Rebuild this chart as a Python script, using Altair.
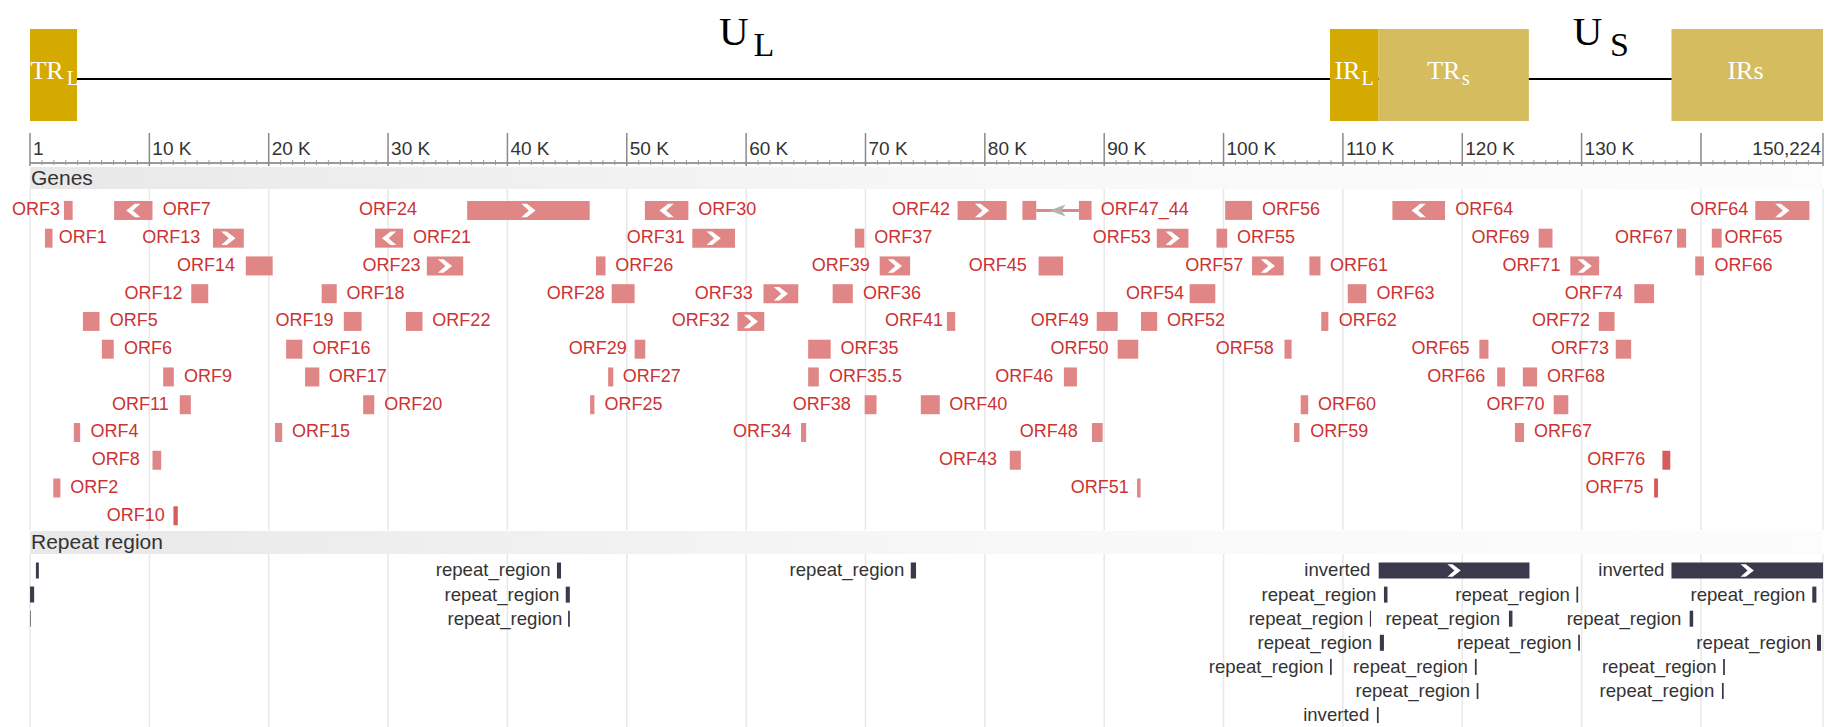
import altair as alt
import pandas as pd

GENOME_LEN = 150224
PW = 1793
FONT = "Liberation Sans"
SERIF = "Liberation Serif"

# ---------------- genome structure (header) ----------------
region_name = ["TR_L", "IR_L", "TR_s", "IRs"]
region_start = [1, 108920, 112990, 137530]
region_end = [3940, 112990, 125580, 150224]
region_fill = ["#D4AA00", "#D4AA00", "#D4BC5F", "#D4BC5F"]
region_text = ["TR", "IR", "TR", "IRs"]
region_text_end = [2823, 111470, 119850, 145240]
region_sub = ["L", "L", "s", ""]
region_sub_start = [3074, 111553, 119975, 145240]

segment_text = ["U", "U"]
segment_text_end = [60206, 131745]
segment_sub = ["L", "S"]
segment_sub_start = [60625, 132373]

# ---------------- ruler ----------------
axis_label_pos = [0, 10000, 20000, 30000, 40000, 50000, 60000, 70000,
                  80000, 90000, 100000, 110000, 120000, 130000]
axis_label_text = ["1", "10 K", "20 K", "30 K", "40 K", "50 K", "60 K", "70 K",
                   "80 K", "90 K", "100 K", "110 K", "120 K", "130 K"]
axis_end_label = "150,224"
major_tick_pos = [0, 10000, 20000, 30000, 40000, 50000, 60000, 70000, 80000,
                  90000, 100000, 110000, 120000, 130000, 140000, 150224]
minor_tick_pos = [p for p in range(1000, GENOME_LEN, 1000) if p % 10000]

# ---------------- genes ----------------
gene_name = [
    "ORF3", "ORF7", "ORF24", "ORF30", "ORF42", "ORF47_44", "ORF56", "ORF64", "ORF64",
    "ORF1", "ORF13", "ORF21", "ORF31", "ORF37", "ORF53", "ORF55", "ORF69", "ORF67", "ORF65",
    "ORF14", "ORF23", "ORF26", "ORF39", "ORF45", "ORF57", "ORF61", "ORF71", "ORF66",
    "ORF12", "ORF18", "ORF28", "ORF33", "ORF36", "ORF54", "ORF63", "ORF74",
    "ORF5", "ORF19", "ORF22", "ORF32", "ORF41", "ORF49", "ORF52", "ORF62", "ORF72",
    "ORF6", "ORF16", "ORF29", "ORF35", "ORF50", "ORF58", "ORF65", "ORF73",
    "ORF9", "ORF17", "ORF27", "ORF35.5", "ORF46", "ORF66", "ORF68",
    "ORF11", "ORF20", "ORF25", "ORF38", "ORF40", "ORF60", "ORF70",
    "ORF4", "ORF15", "ORF34", "ORF48", "ORF59", "ORF67",
    "ORF8", "ORF43", "ORF76",
    "ORF2", "ORF51", "ORF75",
    "ORF10",
]
gene_start = [
    2844, 7050, 36627, 51517, 77715, 83147, 100137, 114147, 144551,
    1254, 15330, 28910, 55492, 69104, 94408, 99409, 126401, 137993, 140908,
    18079, 33248, 47424, 71191, 84505, 102389, 107192, 129051, 139518,
    13509, 24438, 48735, 61453, 67249, 97157, 110404, 134416,
    4434, 26293, 31493, 59267, 76820, 89374, 93083, 108186, 131436,
    6024, 21458, 50656, 65196, 91130, 105105, 121433, 132860,
    11157, 23047, 48437, 65196, 86624, 122923, 125077,
    12548, 27915, 46927, 69932, 74635, 106463, 127660,
    3672, 20530, 64600, 88975, 105900, 124414,
    10263, 82087, 136768,
    1950, 92752, 136072,
    12018,
]
gene_end = [
    3573, 10263, 46894, 55161, 81822, 88943, 102389, 118552, 149088,
    1884, 17914, 31261, 59069, 69899, 97058, 100303, 127560, 138755, 141736,
    20331, 36295, 48219, 73741, 86558, 105039, 108119, 131469, 140247,
    14933, 25697, 50656, 64368, 68939, 99310, 111961, 136072,
    5825, 27783, 32884, 61520, 77516, 91130, 94441, 108782, 132761,
    7017, 22816, 51550, 67084, 92852, 105701, 122195, 134152,
    12051, 24239, 48868, 66090, 87717, 123587, 126269,
    13476, 28844, 47291, 70925, 76224, 107092, 128885,
    4202, 21126, 65030, 89870, 106364, 125176,
    10992, 83015, 137431,
    2546, 93050, 136403,
    12383,
]
gene_row = (
    [0] * 9 + [1] * 10 + [2] * 9 + [3] * 8 + [4] * 9 + [5] * 8
    + [6] * 7 + [7] * 7 + [8] * 6 + [9] * 3 + [10] * 3 + [11] * 1
)
gene_strand = [
    "", "-", "+", "-", "+", "-", "", "-", "+",
    "", "+", "-", "+", "", "+", "", "", "", "",
    "", "+", "", "+", "", "+", "", "+", "",
    "", "", "", "+", "", "", "", "",
    "", "", "", "+", "", "", "", "", "",
    "", "", "", "", "", "", "", "",
    "", "", "", "", "", "", "",
    "", "", "", "", "", "", "",
    "", "", "", "", "", "",
    "", "", "",
    "", "", "",
    "",
]
gene_label_side = [
    "L", "R", "L", "R", "L", "R", "R", "R", "L",
    "R", "L", "R", "L", "R", "L", "R", "L", "L", "R",
    "L", "L", "R", "L", "L", "L", "R", "L", "R",
    "L", "R", "L", "L", "R", "L", "R", "L",
    "R", "L", "R", "L", "L", "L", "R", "R", "L",
    "R", "R", "L", "R", "L", "L", "L", "L",
    "R", "R", "R", "R", "L", "L", "R",
    "L", "R", "R", "L", "R", "R", "L",
    "R", "R", "L", "L", "R", "R",
    "L", "L", "L",
    "R", "L", "L",
    "L",
]
gene_label_pos = [
    2513, 11124, 32420, 55989, 77086, 89705, 103217, 119413, 143955,
    2414, 14271, 32089, 54863, 70727, 93911, 101131, 125640, 137662, 141968,
    17185, 32718, 49033, 70363, 83511, 101661, 108914, 128223, 141140,
    12780, 26525, 48152, 60559, 69799, 96693, 112822, 133456,
    6686, 25432, 33712, 58638, 76490, 88711, 95269, 109643, 130707,
    7878, 23676, 49994, 67912, 90367, 104211, 120605, 132297,
    12913, 25035, 49663, 66951, 85730, 121930, 127097,
    11621, 29671, 48139, 68773, 77020, 107920, 126898,
    5063, 21954, 63772, 87784, 107258, 126004,
    9203, 81027, 135344,
    3374, 92056, 135178,
    11290,
]
gene_shade = ["normal"] * len(gene_name)
for _i, _n in enumerate(gene_name):
    if _n in ("ORF76", "ORF75", "ORF10"):
        gene_shade[_i] = "dark"

# spliced gene ORF47_44
exon_gene = ["ORF47_44", "ORF47_44"]
exon_start = [83147, 87885]
exon_end = [84307, 88943]
exon_row = [0, 0]
intron_gene = ["ORF47_44"]
intron_start = [84307]
intron_end = [87885]
intron_row = [0]

# ---------------- repeat regions ----------------
rep_label = [
    "", "repeat_region", "repeat_region", "inverted", "inverted",
    "", "repeat_region", "repeat_region", "repeat_region", "repeat_region",
    "", "repeat_region", "repeat_region", "repeat_region", "repeat_region",
    "repeat_region", "repeat_region", "repeat_region",
    "repeat_region", "repeat_region", "repeat_region",
    "repeat_region", "repeat_region",
    "inverted",
]
rep_start = [
    495, 44149, 73793, 112997, 137527,
    4, 44886, 113439, 129564, 149326,
    0, 45083, 112259, 123910, 139052,
    113095, 129711, 149719,
    108916, 121059, 141855,
    121207, 141757,
    112849,
]
rep_end = [
    741, 44493, 74236, 125631, 150224,
    348, 45230, 113734, 129711, 149670,
    53, 45230, 112357, 124205, 139347,
    113439, 129858, 150063,
    109064, 121207, 142003,
    121354, 141904,
    112997,
]
rep_row = [0] * 5 + [1] * 5 + [2] * 5 + [3] * 3 + [4] * 3 + [5] * 2 + [6]
rep_strand = ["", "", "", "+", "+"] + [""] * 19
rep_label_pos = [
    0, 43608, 73252, 112308, 136937,
    0, 44346, 112800, 129023, 148736,
    0, 44592, 111718, 123173, 138363,
    112455, 129170, 149228,
    108376, 120469, 141314,
    120666, 141117,
    112210,
]

# ---------------- build tables ----------------
regions = pd.DataFrame(dict(name=region_name, start=region_start, end=region_end,
                            fill=region_fill, text=region_text, text_end=region_text_end,
                            sub=region_sub, sub_start=region_sub_start))
segments = pd.DataFrame(dict(text=segment_text, text_end=segment_text_end,
                             sub=segment_sub, sub_start=segment_sub_start))
span = pd.DataFrame({"start": [0], "end": [GENOME_LEN]})
ax_labels = pd.DataFrame({"pos": axis_label_pos, "text": axis_label_text})
ax_end = pd.DataFrame({"pos": [GENOME_LEN], "text": [axis_end_label]})
majors = pd.DataFrame({"pos": major_tick_pos})
minors = pd.DataFrame({"pos": minor_tick_pos})
genes = pd.DataFrame(dict(name=gene_name, start=gene_start, end=gene_end, row=gene_row,
                          strand=gene_strand, side=gene_label_side, label_pos=gene_label_pos,
                          shade=gene_shade))
genes["spliced"] = genes["name"].isin(intron_gene)
exons = pd.DataFrame(dict(name=exon_gene, start=exon_start, end=exon_end, row=exon_row))
introns = pd.DataFrame(dict(name=intron_gene, start=intron_start, end=intron_end, row=intron_row))
repeats = pd.DataFrame(dict(label=rep_label, start=rep_start, end=rep_end, row=rep_row,
                            strand=rep_strand, label_pos=rep_label_pos))

xs = alt.Scale(domain=[0, GENOME_LEN], nice=False, zero=False)


def X(f):
    return alt.X(f"{f}:Q", scale=xs, axis=None)


CHEV_R = "M -0.95 -0.9 L -0.2 -0.9 L 0.95 0 L -0.2 0.9 L -0.95 0.9 L 0.05 0 Z"
CHEV_L = "M 0.95 -0.9 L 0.2 -0.9 L -0.95 0 L 0.2 0.9 L 0.95 0.9 L -0.05 0 Z"
DART_L = "M 1 -0.75 L -1 0 L 1 0.75 L 0.45 0 Z"
GRAD = {"gradient": "linear", "x1": 0, "x2": 1, "y1": 0, "y2": 0,
        "stops": [{"offset": 0, "color": "#e8e8e8"},
                  {"offset": 0.55, "color": "#f8f8f8"},
                  {"offset": 1, "color": "#fcfcfc"}]}

# ---------------- header panel ----------------
H_HDR = 122
hdr_line = alt.Chart(span).mark_rule(color="#000000", strokeWidth=2).encode(
    x=X("start"), x2=alt.X2("end"), y=alt.value(71))
hdr_boxes = alt.Chart(regions).mark_rect().encode(
    x=X("start"), x2=alt.X2("end"), y=alt.value(21), y2=alt.value(113),
    color=alt.Color("fill:N", scale=None))
hdr_main = alt.Chart(regions).mark_text(
    align="right", baseline="alphabetic", font=SERIF, fontSize=26, color="white").encode(
    x=X("text_end"), y=alt.value(71), text="text:N")
hdr_sub = alt.Chart(regions).mark_text(
    align="left", baseline="alphabetic", font=SERIF, fontSize=20, color="white").encode(
    x=X("sub_start"), y=alt.value(77), text="sub:N")
seg_main = alt.Chart(segments).mark_text(
    align="right", baseline="alphabetic", font=SERIF, fontSize=41, color="#000000").encode(
    x=X("text_end"), y=alt.value(37), text="text:N")
seg_sub = alt.Chart(segments).mark_text(
    align="left", baseline="alphabetic", font=SERIF, fontSize=34, color="#000000").encode(
    x=X("sub_start"), y=alt.value(48), text="sub:N")
header = alt.layer(hdr_line, hdr_boxes, hdr_main, hdr_sub, seg_main, seg_sub).properties(
    width=PW, height=H_HDR)

# ---------------- ruler panel ----------------
H_AX = 36
ax_major = alt.Chart(majors).mark_rule(color="#8a8a8a", strokeWidth=1.5).encode(
    x=X("pos"), y=alt.value(3), y2=alt.value(36))
ax_minor = alt.Chart(minors).mark_rule(color="#9a9a9a", strokeWidth=1).encode(
    x=X("pos"), y=alt.value(30), y2=alt.value(35))
ax_base = alt.Chart(span).mark_rule(color="#9a9a9a", strokeWidth=2).encode(
    x=X("start"), x2=alt.X2("end"), y=alt.value(33))
ax_text = alt.Chart(ax_labels).mark_text(
    align="left", baseline="alphabetic", dx=3, font=FONT, fontSize=19, color="#333333").encode(
    x=X("pos"), y=alt.value(25), text="text:N")
ax_end_text = alt.Chart(ax_end).mark_text(
    align="right", baseline="alphabetic", dx=-2, font=FONT, fontSize=19, color="#333333").encode(
    x=X("pos"), y=alt.value(25), text="text:N")
ruler = alt.layer(ax_base, ax_minor, ax_major, ax_text, ax_end_text).properties(
    width=PW, height=H_AX)

# ---------------- genes panel ----------------
H_GEN = 363
yg = alt.Scale(domain=[-1.5634, 11.513], reverse=True, nice=False, zero=False)
shade_scale = alt.Scale(domain=["normal", "dark"], range=["#e08686", "#d65c5c"])


def YG(f):
    return alt.Y(f"{f}:Q", scale=yg, axis=None)


g_grid = alt.Chart(majors).mark_rule(color="#e8e8e8", strokeWidth=1.5).encode(
    x=X("pos"), y=alt.value(22), y2=alt.value(H_GEN))
g_band = alt.Chart(span).mark_rect(color=GRAD).encode(
    x=X("start"), x2=alt.X2("end"), y=alt.value(0), y2=alt.value(22))
g_title = alt.Chart(span).mark_text(
    text="Genes", align="left", baseline="alphabetic", dx=1, font=FONT, fontSize=21,
    color="#333333").encode(x=X("start"), y=alt.value(18))
g_boxes = alt.Chart(genes).transform_filter("!datum.spliced").transform_calculate(
    y0="datum.row - 0.342", y1="datum.row + 0.342").mark_rect().encode(
    x=X("start"), x2=alt.X2("end"), y=YG("y0"), y2=alt.Y2("y1"),
    color=alt.Color("shade:N", scale=shade_scale, legend=None))
g_introns = alt.Chart(introns).mark_rule(color="#e08686", strokeWidth=3).encode(
    x=X("start"), x2=alt.X2("end"), y=YG("row"))
g_exons = alt.Chart(exons).transform_calculate(
    y0="datum.row - 0.342", y1="datum.row + 0.342").mark_rect(color="#e08686").encode(
    x=X("start"), x2=alt.X2("end"), y=YG("y0"), y2=alt.Y2("y1"))
g_intron_arrow = alt.Chart(introns).transform_calculate(
    mid="(datum.start + datum.end) / 2").mark_point(
    shape=DART_L, filled=True, color="#b3b3b3", opacity=1, size=256, strokeWidth=0).encode(
    x=X("mid"), y=YG("row"))
g_chev_r = alt.Chart(genes).transform_filter(
    "datum.strand == '+' && !datum.spliced").transform_calculate(
    mid="(datum.start + datum.end) / 2").mark_point(
    shape=CHEV_R, filled=True, color="white", opacity=1, size=225, strokeWidth=0).encode(
    x=X("mid"), y=YG("row"))
g_chev_l = alt.Chart(genes).transform_filter(
    "datum.strand == '-' && !datum.spliced").transform_calculate(
    mid="(datum.start + datum.end) / 2").mark_point(
    shape=CHEV_L, filled=True, color="white", opacity=1, size=225, strokeWidth=0).encode(
    x=X("mid"), y=YG("row"))
g_lab_l = alt.Chart(genes).transform_filter("datum.side == 'L'").mark_text(
    align="right", baseline="middle", font=FONT, fontSize=18, color="#cc3333").encode(
    x=X("label_pos"), y=YG("row"), text="name:N")
g_lab_r = alt.Chart(genes).transform_filter("datum.side == 'R'").mark_text(
    align="left", baseline="middle", font=FONT, fontSize=18, color="#cc3333").encode(
    x=X("label_pos"), y=YG("row"), text="name:N")
genes_panel = alt.layer(g_grid, g_band, g_title, g_introns, g_exons, g_boxes,
                        g_intron_arrow, g_chev_r, g_chev_l, g_lab_l, g_lab_r).properties(
    width=PW, height=H_GEN)

# ---------------- repeat panel ----------------
H_REP = 198
yr = alt.Scale(domain=[-1.639, 6.577], reverse=True, nice=False, zero=False)


def YR(f):
    return alt.Y(f"{f}:Q", scale=yr, axis=None)


r_grid = alt.Chart(majors).mark_rule(color="#e8e8e8", strokeWidth=1.5).encode(
    x=X("pos"), y=alt.value(23), y2=alt.value(H_REP))
r_band = alt.Chart(span).mark_rect(color=GRAD).encode(
    x=X("start"), x2=alt.X2("end"), y=alt.value(0), y2=alt.value(23))
r_title = alt.Chart(span).mark_text(
    text="Repeat region", align="left", baseline="alphabetic", dx=1, font=FONT, fontSize=21,
    color="#333333").encode(x=X("start"), y=alt.value(18))
r_bars = alt.Chart(repeats).transform_calculate(
    y0="datum.row - 0.332", y1="datum.row + 0.332").mark_rect(color="#3a3a4c").encode(
    x=X("start"), x2=alt.X2("end"), y=YR("y0"), y2=alt.Y2("y1"))
r_chev = alt.Chart(repeats).transform_filter("datum.strand == '+'").transform_calculate(
    mid="(datum.start + datum.end) / 2").mark_point(
    shape=CHEV_R, filled=True, color="white", opacity=1, size=196, strokeWidth=0).encode(
    x=X("mid"), y=YR("row"))
r_lab = alt.Chart(repeats).transform_filter("datum.label != ''").mark_text(
    align="right", baseline="middle", font=FONT, fontSize=18.6, color="#333333").encode(
    x=X("label_pos"), y=YR("row"), text="label:N")
repeat_panel = alt.layer(r_grid, r_band, r_title, r_bars, r_chev, r_lab).properties(
    width=PW, height=H_REP)

chart = alt.vconcat(header, ruler, genes_panel, repeat_panel, spacing=0).properties(
    padding={"left": 3, "top": 0, "right": 0, "bottom": 0}
).configure_view(strokeWidth=0)

chart.save("out.html", embed_options={"renderer": "svg", "actions": False})
